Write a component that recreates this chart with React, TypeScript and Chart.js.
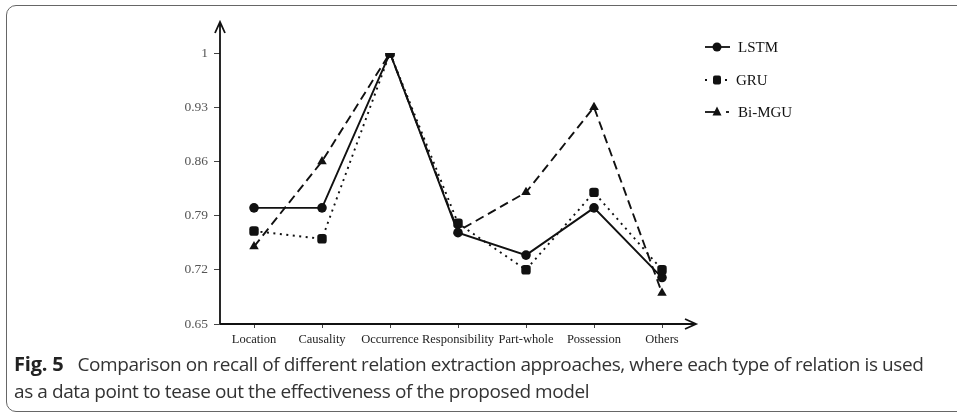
import React, { useEffect, useRef } from "react";
import { Chart, registerables } from "chart.js";

Chart.register(...registerables);

const categories = ["Location", "Causality", "Occurrence", "Responsibility", "Part-whole", "Possession", "Others"];
const lstm = [0.80, 0.80, 1.0, 0.768, 0.739, 0.80, 0.71];
const gru = [0.77, 0.76, 1.0, 0.78, 0.72, 0.82, 0.72];
const biMgu = [0.75, 0.86, 1.0, 0.77, 0.82, 0.93, 0.69];
const yTicks = [0.65, 0.72, 0.79, 0.86, 0.93, 1];
const seriesNames = ["LSTM", "GRU", "Bi-MGU"];

const INK = "#111";

function drawMarker(ctx: CanvasRenderingContext2D, kind: string, x: number, y: number) {
  ctx.save();
  ctx.fillStyle = INK;
  ctx.setLineDash([]);
  ctx.beginPath();
  if (kind === "circle") {
    ctx.arc(x, y, 4.5, 0, Math.PI * 2);
  } else if (kind === "square") {
    ctx.roundRect(x - 4, y - 4.5, 8, 9, 2);
  } else {
    ctx.moveTo(x, y - 5.5);
    ctx.lineTo(x + 4.5, y + 3.5);
    ctx.lineTo(x - 4.5, y + 3.5);
    ctx.closePath();
  }
  ctx.fill();
  ctx.restore();
}

const axesPlugin = {
  id: "arrowAxes",
  afterDraw(chart: any) {
    const ctx = chart.ctx as CanvasRenderingContext2D;
    const { left, right, bottom } = chart.chartArea;
    ctx.save();
    ctx.strokeStyle = INK;
    ctx.lineWidth = 1.8;
    ctx.setLineDash([]);
    const topY = 22;
    // y axis
    ctx.beginPath();
    ctx.moveTo(left, bottom);
    ctx.lineTo(left, topY);
    ctx.moveTo(left - 5, topY + 11);
    ctx.lineTo(left, topY);
    ctx.lineTo(left + 5, topY + 11);
    ctx.stroke();
    // x axis
    ctx.beginPath();
    ctx.moveTo(left, bottom);
    ctx.lineTo(right, bottom);
    ctx.moveTo(right - 11, bottom - 5);
    ctx.lineTo(right, bottom);
    ctx.lineTo(right - 11, bottom + 5);
    ctx.stroke();

    // legend
    const lx = 705;
    const ys = [47, 80, 112];
    const kinds = ["circle", "square", "triangle"];
    ctx.lineWidth = 1.8;
    ctx.font = "15px 'Liberation Serif', 'Times New Roman', serif";
    ctx.textBaseline = "middle";
    ctx.fillStyle = INK;
    seriesNames.forEach((name, i) => {
      const y = ys[i];
      ctx.beginPath();
      if (i === 0) {
        ctx.moveTo(lx, y);
        ctx.lineTo(lx + 25, y);
        ctx.stroke();
      } else if (i === 1) {
        ctx.fillRect(lx, y - 1, 2, 2);
        ctx.fillRect(lx + 20, y - 1, 2, 2);
      } else {
        ctx.moveTo(lx, y);
        ctx.lineTo(lx + 12, y);
        ctx.stroke();
        ctx.fillRect(lx + 21, y - 0.9, 3, 1.8);
      }
      drawMarker(ctx, kinds[i], lx + 12, y);
      ctx.fillText(name, i === 1 ? lx + 31 : lx + 33, y + 1);
    });
    ctx.restore();
  },
};

function makeDataset(label: string, data: number[], kind: string, dash: number[]) {
  const style = kind === "circle" ? "circle" : kind === "square" ? "rectRounded" : "triangle";
  return {
    label,
    data,
    borderColor: INK,
    backgroundColor: INK,
    borderWidth: 1.9,
    borderDash: dash,
    pointStyle: style,
    pointRadius: kind === "triangle" ? 5.5 : kind === "square" ? 5.5 : 4.8,
    pointBorderWidth: 0,
    pointBackgroundColor: INK,
    tension: 0,
  };
}

export default function App() {
  const canvasRef = useRef<HTMLCanvasElement | null>(null);

  useEffect(() => {
    document.body.style.margin = "0";
    const canvas = canvasRef.current;
    if (!canvas) return;
    const chart = new Chart(canvas, {
      type: "line",
      data: {
        labels: categories,
        datasets: [
          makeDataset("Bi-MGU", biMgu, "triangle", [9, 5]),
          makeDataset("GRU", gru, "square", [2, 4.5]),
          makeDataset("LSTM", lstm, "circle", []),
        ],
      },
      options: {
        animation: false,
        responsive: false,
        maintainAspectRatio: false,
        layout: { padding: { top: 53, right: 261, left: 0, bottom: 0 } },
        plugins: { legend: { display: false }, tooltip: { enabled: false } },
        scales: {
          x: {
            type: "category",
            offset: true,
            border: { display: false },
            grid: { display: true, drawOnChartArea: false, drawTicks: true, tickLength: 4, color: "#444", lineWidth: 1 },
            ticks: {
              color: "#222",
              font: { family: "'Liberation Serif', 'Times New Roman', serif", size: 12.5 },
              padding: 4,
              maxRotation: 0,
              autoSkip: false,
            },
            afterFit: (s: any) => { s.height = 36; },
          },
          y: {
            min: 0.65,
            max: 1,
            border: { display: false },
            afterBuildTicks: (s: any) => { s.ticks = yTicks.map((v) => ({ value: v })); },
            grid: { display: true, drawOnChartArea: false, drawTicks: true, tickLength: 6, color: "#444", lineWidth: 1 },
            ticks: {
              color: "#555",
              font: { family: "'Liberation Serif', 'Times New Roman', serif", size: 13.5 },
              padding: 6,
              callback: (v: any) => String(Number(v)),
            },
            afterFit: (s: any) => { s.width = 220; },
          },
        },
      },
      plugins: [axesPlugin],
    });
    return () => chart.destroy();
  }, []);

  return (
    <div style={{ position: "relative", width: 957, height: 416, overflow: "hidden", background: "#fff" }}>
      <div
        style={{
          position: "absolute",
          left: 6,
          top: 5,
          width: 980,
          height: 407,
          border: "1.5px solid #666",
          borderRadius: 10,
          boxSizing: "border-box",
        }}
      />
      <canvas ref={canvasRef} width={957} height={360} style={{ position: "absolute", left: 0, top: 0, width: 957, height: 360 }} />
      <div
        style={{
          position: "absolute",
          left: 14,
          top: 350,
          fontFamily: "'Open Sans', 'Noto Sans', sans-serif",
          fontSize: 19,
          lineHeight: "27px",
          color: "#333",
          letterSpacing: -0.42,
          whiteSpace: "nowrap",
        }}
      >
        <div>
          <span style={{ fontWeight: 700, color: "#222", fontSize: 20, letterSpacing: -0.2, marginRight: 14 }}>Fig. 5</span>
          {"Comparison on recall of different relation extraction approaches, where each type of relation is used"}
        </div>
        <div>as a data point to tease out the effectiveness of the proposed model</div>
      </div>
    </div>
  );
}
